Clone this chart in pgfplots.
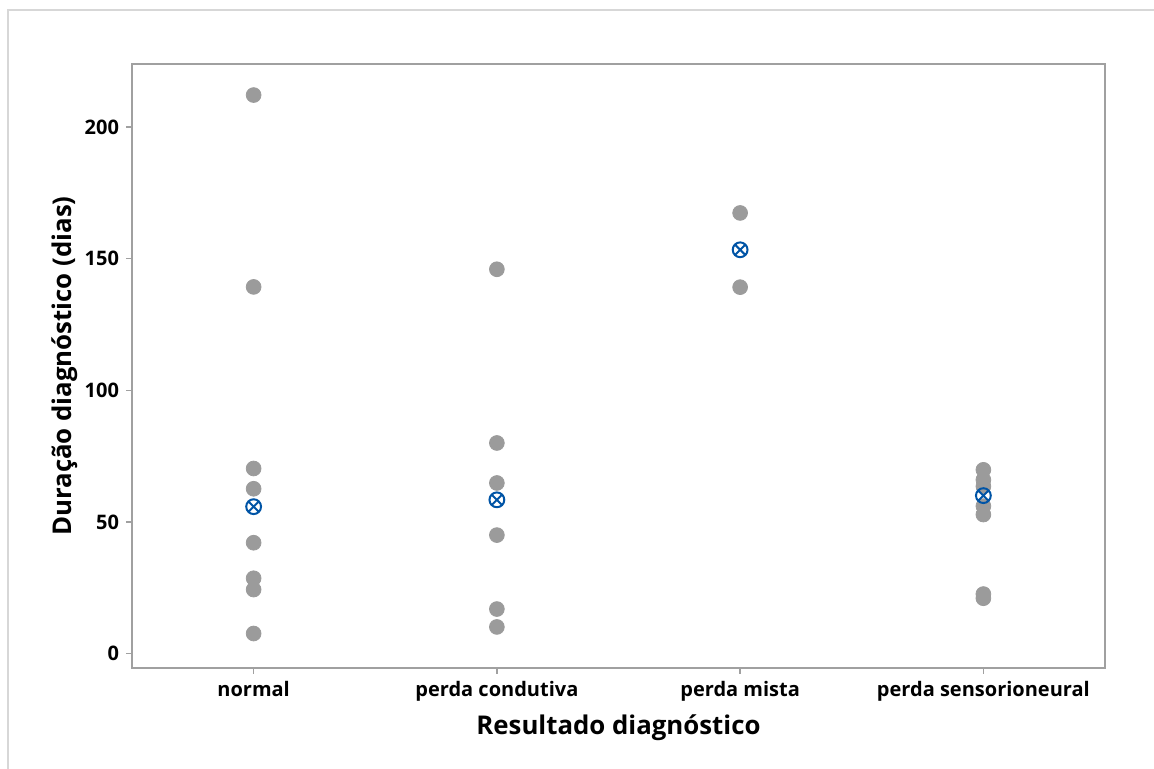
\documentclass[border=0pt]{standalone}
\usepackage{fontspec}
\setmainfont{Open Sans}
\usepackage{pgfplots}
\pgfplotsset{compat=1.18}
\definecolor{dotgray}{RGB}{155,155,155}
\definecolor{meanblue}{RGB}{0,84,166}
\definecolor{axgray}{RGB}{160,160,160}
\definecolor{framegray}{RGB}{215,215,215}
\begin{document}
\begin{tikzpicture}
\useasboundingbox (-66pt,-50.5pt) rectangle (511pt,334pt);
\draw[framegray, line width=0.75pt] (-62pt,-60pt) -- (-62pt,329pt) -- (520pt,329pt);
\begin{axis}[
  at={(0,0)}, anchor=south west, scale only axis,
  width=486.5pt, height=302pt,
  xmin=-0.5, xmax=3.5, ymin=-5.5, ymax=224,
  xtick={0,1,2,3},
  xticklabels={normal, perda condutiva, perda mista, perda sensorioneural},
  ytick={0,50,100,150,200},
  tick align=outside, major tick length=3pt,
  xtick pos=bottom, ytick pos=left,
  axis line style={axgray, line width=0.75pt},
  tick style={axgray, line width=0.75pt},
  ticklabel style={font=\fontsize{10}{12}\selectfont\bfseries, text=black},
  /pgf/number format/assume math mode=true,
  xlabel={Resultado diagnóstico},
  ylabel={Duração diagnóstico (dias)},
  every axis x label/.style={at={(axis description cs:0.5,-0.0993)}, anchor=center, font=\fontsize{12.9}{15}\selectfont\bfseries},
  every axis y label/.style={at={(axis description cs:-0.0689,0.5)}, anchor=center, rotate=90, font=\fontsize{12.9}{15}\selectfont\bfseries},
  clip=false,
]
\addplot[only marks, mark=*, color=dotgray, mark size=3.7pt] table {
x y
0 212.2
0 139.3
0 70.3
0 62.6
0 42.1
0 28.6
0 24.3
0 7.6
1 146.0
1 80.0
1 64.8
1 45.0
1 16.9
1 10.1
2 167.4
2 139.2
3 69.8
3 66.0
3 63.5
3 56.0
3 52.8
3 22.6
3 21.0
};
\addplot[only marks, mark=otimes, color=meanblue, mark size=3.7pt, mark options={line width=1pt, fill=none}] table {
x y
0 55.8
1 58.4
2 153.4
3 60.0
};
\end{axis}
\end{tikzpicture}
\end{document}
